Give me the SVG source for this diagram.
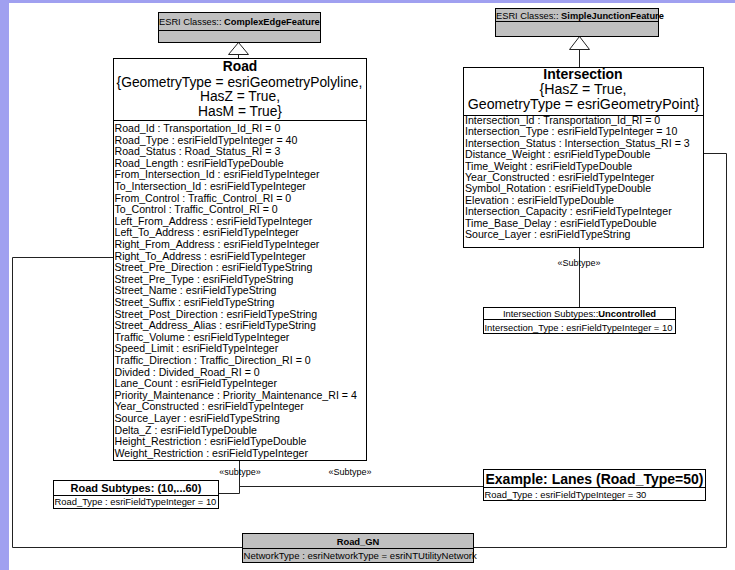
<svg xmlns="http://www.w3.org/2000/svg" width="735" height="570" viewBox="0 0 735 570">
  <style>
    .t { font-family: "Liberation Sans", Arial, sans-serif; fill: #000; }
    .box { fill: #fff; stroke: #000; stroke-width: 1; }
    .grey { fill: #c0c0c0; stroke: #000; stroke-width: 1; }
    .rule { stroke: #000; stroke-width: 1; }
    .hdr { font-size: 13.8px; }
    .attr { font-size: 10.6px; }
    .small { font-size: 9.4px; }
    .esri { font-size: 9.3px; }
    .lbl { font-size: 9px; }
    .b { font-weight: bold; }
    .conn { fill: none; stroke: #222; stroke-width: 1; }
    .gen { fill: #fff; stroke: #222; stroke-width: 1; }
  </style>

  <!-- page background and window frame strips -->
  <rect x="0" y="0" width="735" height="570" fill="#fff"/>
  <rect x="0" y="0" width="9" height="570" fill="#a0a0f0"/>
  <rect x="0" y="0" width="735" height="3" fill="#a0a0f0"/>

  <!-- connectors -->
  <g id="connectors">
    <!-- Road generalizes ComplexEdgeFeature -->
    <line class="conn" x1="238.5" y1="54" x2="238.5" y2="58"/>
    <polygon class="gen" points="238.5,42.5 228.5,54.5 248.5,54.5"/>
    <!-- Intersection generalizes SimpleJunctionFeature -->
    <line class="conn" x1="579.5" y1="49" x2="579.5" y2="67"/>
    <polygon class="gen" points="579.5,36.5 569.5,49.5 589.5,49.5"/>
    <!-- Intersection to its subtype -->
    <line class="conn" x1="579.5" y1="247" x2="579.5" y2="307"/>
    <text class="t lbl" x="579" y="266" text-anchor="middle">«Subtype»</text>
    <!-- Road to Road subtypes -->
    <polyline class="conn" points="239.5,460 239.5,493.5 218,493.5"/>
    <text class="t lbl" x="240" y="475" text-anchor="middle">«subtype»</text>
    <!-- Road to lanes example -->
    <line class="conn" x1="239.5" y1="486.5" x2="483" y2="486.5"/>
    <text class="t lbl" x="350" y="475" text-anchor="middle">«Subtype»</text>
    <!-- Road to geometric network -->
    <polyline class="conn" points="113,257.5 12.5,257.5 12.5,547.5 242,547.5"/>
    <!-- Intersection to geometric network -->
    <polyline class="conn" points="703,153.5 726.5,153.5 726.5,547.5 473,547.5"/>
  </g>

  <!-- ESRI Classes::ComplexEdgeFeature -->
  <g id="complex-edge-feature">
    <rect class="grey" x="158.5" y="12.5" width="162" height="30"/>
    <line class="rule" x1="158.5" y1="30.5" x2="320.5" y2="30.5"/>
    <text class="t esri" x="159" y="24.5">ESRI Classes:: <tspan class="b">ComplexEdgeFeature</tspan></text>
  </g>

  <!-- ESRI Classes::SimpleJunctionFeature -->
  <g id="simple-junction-feature">
    <rect class="grey" x="495.5" y="8.5" width="163" height="28"/>
    <line class="rule" x1="495.5" y1="21.5" x2="658.5" y2="21.5"/>
    <text class="t esri" x="496" y="18.5">ESRI Classes:: <tspan class="b">SimpleJunctionFeature</tspan></text>
  </g>

  <!-- Road feature class -->
  <g id="road">
    <rect class="box" x="113.5" y="58.5" width="253" height="402"/>
    <line class="rule" x1="113.5" y1="120.5" x2="366.5" y2="120.5"/>
    <text class="t hdr b" x="240" y="71" text-anchor="middle">Road</text>
    <text class="t hdr" x="239.5" y="86.5" text-anchor="middle">{GeometryType = esriGeometryPolyline,</text>
    <text class="t hdr" x="240" y="101" text-anchor="middle">HasZ = True,</text>
    <text class="t hdr" x="240" y="115.5" text-anchor="middle">HasM = True}</text>
    <text class="t attr" x="114.5" y="132">
      <tspan x="114.5" dy="0">Road_Id : Transportation_Id_RI = 0</tspan>
      <tspan x="114.5" dy="11.6">Road_Type : esriFieldTypeInteger = 40</tspan>
      <tspan x="114.5" dy="11.6">Road_Status : Road_Status_RI = 3</tspan>
      <tspan x="114.5" dy="11.6">Road_Length : esriFieldTypeDouble</tspan>
      <tspan x="114.5" dy="11.6">From_Intersection_Id : esriFieldTypeInteger</tspan>
      <tspan x="114.5" dy="11.6">To_Intersection_Id : esriFieldTypeInteger</tspan>
      <tspan x="114.5" dy="11.6">From_Control : Traffic_Control_RI = 0</tspan>
      <tspan x="114.5" dy="11.6">To_Control : Traffic_Control_RI = 0</tspan>
      <tspan x="114.5" dy="11.6">Left_From_Address : esriFieldTypeInteger</tspan>
      <tspan x="114.5" dy="11.6">Left_To_Address : esriFieldTypeInteger</tspan>
      <tspan x="114.5" dy="11.6">Right_From_Address : esriFieldTypeInteger</tspan>
      <tspan x="114.5" dy="11.6">Right_To_Address : esriFieldTypeInteger</tspan>
      <tspan x="114.5" dy="11.6">Street_Pre_Direction : esriFieldTypeString</tspan>
      <tspan x="114.5" dy="11.6">Street_Pre_Type : esriFieldTypeString</tspan>
      <tspan x="114.5" dy="11.6">Street_Name : esriFieldTypeString</tspan>
      <tspan x="114.5" dy="11.6">Street_Suffix : esriFieldTypeString</tspan>
      <tspan x="114.5" dy="11.6">Street_Post_Direction : esriFieldTypeString</tspan>
      <tspan x="114.5" dy="11.6">Street_Address_Alias : esriFieldTypeString</tspan>
      <tspan x="114.5" dy="11.6">Traffic_Volume : esriFieldTypeInteger</tspan>
      <tspan x="114.5" dy="11.6">Speed_Limit : esriFieldTypeInteger</tspan>
      <tspan x="114.5" dy="11.6">Traffic_Direction : Traffic_Direction_RI = 0</tspan>
      <tspan x="114.5" dy="11.6">Divided : Divided_Road_RI = 0</tspan>
      <tspan x="114.5" dy="11.6">Lane_Count : esriFieldTypeInteger</tspan>
      <tspan x="114.5" dy="11.6">Priority_Maintenance : Priority_Maintenance_RI = 4</tspan>
      <tspan x="114.5" dy="11.6">Year_Constructed : esriFieldTypeInteger</tspan>
      <tspan x="114.5" dy="11.6">Source_Layer : esriFieldTypeString</tspan>
      <tspan x="114.5" dy="11.6">Delta_Z : esriFieldTypeDouble</tspan>
      <tspan x="114.5" dy="11.6">Height_Restriction : esriFieldTypeDouble</tspan>
      <tspan x="114.5" dy="11.6">Weight_Restriction : esriFieldTypeInteger</tspan>
    </text>
  </g>

  <!-- Intersection feature class -->
  <g id="intersection">
    <rect class="box" x="463.5" y="67.5" width="240" height="180"/>
    <line class="rule" x1="463.5" y1="115.5" x2="703.5" y2="115.5"/>
    <text class="t b" font-size="14px" x="583" y="79" text-anchor="middle">Intersection</text>
    <text class="t" font-size="14.2px" x="583" y="94" text-anchor="middle">{HasZ = True,</text>
    <text class="t" font-size="14.2px" x="583.5" y="108.5" text-anchor="middle">GeometryType = esriGeometryPoint}</text>
    <text class="t attr" x="465" y="124">
      <tspan x="465" dy="0">Intersection_Id : Transportation_Id_RI = 0</tspan>
      <tspan x="465" dy="11.4">Intersection_Type : esriFieldTypeInteger = 10</tspan>
      <tspan x="465" dy="11.4">Intersection_Status : Intersection_Status_RI = 3</tspan>
      <tspan x="465" dy="11.4">Distance_Weight : esriFieldTypeDouble</tspan>
      <tspan x="465" dy="11.4">Time_Weight : esriFieldTypeDouble</tspan>
      <tspan x="465" dy="11.4">Year_Constructed : esriFieldTypeInteger</tspan>
      <tspan x="465" dy="11.4">Symbol_Rotation : esriFieldTypeDouble</tspan>
      <tspan x="465" dy="11.4">Elevation : esriFieldTypeDouble</tspan>
      <tspan x="465" dy="11.4">Intersection_Capacity : esriFieldTypeInteger</tspan>
      <tspan x="465" dy="11.4">Time_Base_Delay : esriFieldTypeDouble</tspan>
      <tspan x="465" dy="11.4">Source_Layer : esriFieldTypeString</tspan>
    </text>
  </g>

  <!-- Intersection subtype: Uncontrolled -->
  <g id="intersection-subtype">
    <rect class="box" x="483.5" y="307.5" width="192" height="26"/>
    <line class="rule" x1="483.5" y1="319.5" x2="675.5" y2="319.5"/>
    <text class="t small" x="579.5" y="316.5" text-anchor="middle">Intersection Subtypes::<tspan class="b">Uncontrolled</tspan></text>
    <text class="t small" x="484.5" y="330.5">Intersection_Type : esriFieldTypeInteger = 10</text>
  </g>

  <!-- Road subtypes -->
  <g id="road-subtypes">
    <rect class="box" x="53.5" y="480.5" width="165" height="28"/>
    <line class="rule" x1="53.5" y1="495.5" x2="218.5" y2="495.5"/>
    <text class="t b" font-size="11px" x="136" y="491.5" text-anchor="middle">Road Subtypes: (10,...60)</text>
    <text class="t small" x="54.5" y="505">Road_Type : esriFieldTypeInteger = 10</text>
  </g>

  <!-- Lanes example subtype -->
  <g id="lanes-example">
    <rect class="box" x="483.5" y="469.5" width="222" height="31"/>
    <line class="rule" x1="483.5" y1="487.5" x2="705.5" y2="487.5"/>
    <text class="t b" font-size="14px" x="594.5" y="483.5" text-anchor="middle">Example: Lanes (Road_Type=50)</text>
    <text class="t small" x="484.5" y="497.5">Road_Type : esriFieldTypeInteger = 30</text>
  </g>

  <!-- Geometric network -->
  <g id="road-gn">
    <rect class="grey" x="242.5" y="533.5" width="231" height="29"/>
    <line class="rule" x1="242.5" y1="548.5" x2="473.5" y2="548.5"/>
    <text class="t small b" x="358" y="544.5" text-anchor="middle">Road_GN</text>
    <text class="t" font-size="9.6px" x="243.5" y="559">NetworkType : esriNetworkType = esriNTUtilityNetwork</text>
  </g>
</svg>
